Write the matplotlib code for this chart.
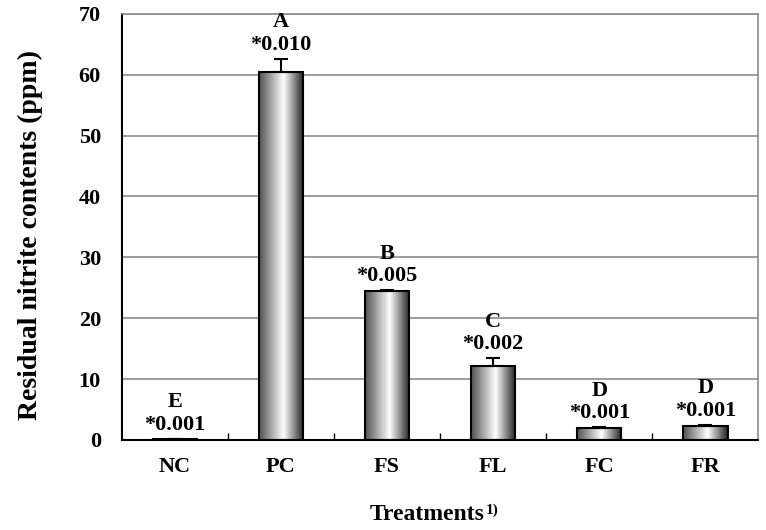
import numpy as np
import matplotlib
matplotlib.use("Agg")
import matplotlib.pyplot as plt
from matplotlib.colors import LinearSegmentedColormap

plt.rcParams['font.family'] = ['Liberation Serif', 'DejaVu Serif']
plt.rcParams['font.weight'] = 'bold'

treatments = ['NC', 'PC', 'FS', 'FL', 'FC', 'FR']
values = [0.2, 60.4, 24.4, 12.2, 1.9, 2.3]
errors = [0.0, 2.2, 0.2, 1.2, 0.2, 0.2]
letters = ['E', 'A', 'B', 'C', 'D', 'D']
pvals = ['*0.001', '*0.010', '*0.005', '*0.002', '*0.001', '*0.001']

fig = plt.figure(figsize=(7.66, 5.30), dpi=100)
ax = fig.add_axes([0.159, 0.170, 0.831, 0.804])

x = np.arange(len(treatments))
bars = ax.bar(x, values, width=0.42, color='none', edgecolor='black',
              linewidth=1.5, zorder=3)
ax.errorbar(x, values, yerr=[np.zeros(len(errors)), errors], fmt='none',
            ecolor='black', elinewidth=1.5, capsize=5, capthick=1.5, zorder=4)

# cylinder-like shading
cmap = LinearSegmentedColormap.from_list(
    'cyl', [(0.0, '#505050'), (0.55, '#ffffff'), (1.0, '#202020')])
grad = np.linspace(0, 1, 256).reshape(1, -1)
for b in bars:
    bx, by = b.get_x(), b.get_y()
    w, h = b.get_width(), b.get_height()
    im = ax.imshow(grad, cmap=cmap, aspect='auto', extent=[bx, bx + w, by, by + h],
                   zorder=2, interpolation='bilinear')
    im.set_clip_path(b)

for xi, v, e, lt, pv in zip(x, values, errors, letters, pvals):
    ax.annotate(pv, (xi, v + e), xytext=(0, 3), textcoords='offset points',
                ha='center', va='bottom', fontsize=16, fontweight='bold')
    ax.annotate(lt, (xi, v + e), xytext=(0, 19), textcoords='offset points',
                ha='center', va='bottom', fontsize=16, fontweight='bold')

ax.set_xlim(-0.5, len(treatments) - 0.5)
ax.set_ylim(0, 70)
ax.set_yticks(range(0, 71, 10))
ax.set_xticks(x)
ax.set_xticklabels(treatments, fontsize=16, fontweight='bold')
ax.set_xticks(np.arange(-0.5, len(treatments), 1)[1:-1], minor=True)
ax.tick_params(axis='x', which='major', length=0, pad=12)
ax.tick_params(axis='x', which='minor', direction='in', length=5, width=1)
ax.tick_params(axis='y', length=0, pad=15, labelsize=16)
for lab in ax.get_yticklabels():
    lab.set_fontweight('bold')

ax.yaxis.grid(True, color='#8c8c8c', linewidth=1.2, zorder=0)
ax.set_axisbelow(True)
for s in ['top', 'right']:
    ax.spines[s].set_color('#8c8c8c')
    ax.spines[s].set_linewidth(1.2)
for s in ['left', 'bottom']:
    ax.spines[s].set_color('black')
    ax.spines[s].set_linewidth(1.5)

fig.text(30 / 766, 1 - 235 / 530, 'Residual nitrite contents (ppm)', rotation=90,
         ha='center', va='center', fontsize=20, fontweight='bold')
xl = fig.text(427 / 766, 1 - 515 / 530, 'Treatments', ha='center', va='center',
              fontsize=17, fontweight='bold')
ax.annotate('1)', xy=(1.0, 1.0), xycoords=xl, xytext=(1, 1),
            textcoords='offset points', ha='left', va='top',
            fontsize=11, fontweight='bold')

fig.savefig('out.png', dpi=100)
